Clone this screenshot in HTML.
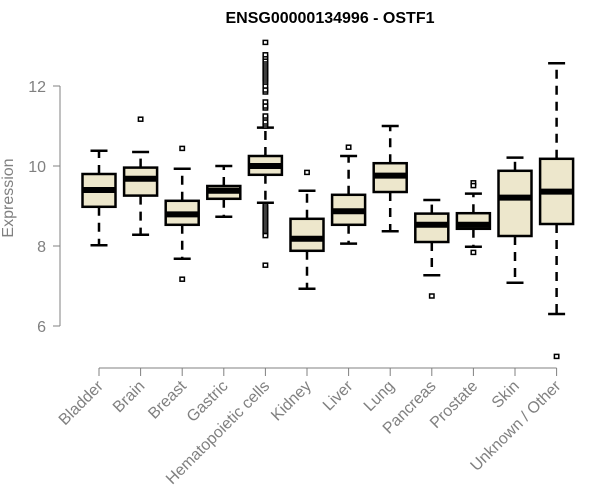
<!DOCTYPE html>
<html><head><meta charset="utf-8">
<style>body{margin:0;background:#fff}svg{display:block;font-family:"Liberation Sans",Arial,sans-serif}</style>
</head><body>
<svg id="chart" width="600" height="500" viewBox="0 0 600 500">
<text x="330" y="23" text-anchor="middle" font-size="16" font-weight="bold">ENSG00000134996 - OSTF1</text>
<text transform="translate(13,198) rotate(-90)" text-anchor="middle" font-size="16" fill="#808080">Expression</text>
<g id="axes"></g><g id="boxes"></g>
</svg>
<script>
const categories=["Bladder","Brain","Breast","Gastric","Hematopoietic cells","Kidney","Liver","Lung","Pancreas","Prostate","Skin","Unknown / Other"];
const whiskerLow=[8.02,8.28,7.68,8.73,9.08,6.93,8.06,8.37,7.27,7.98,7.08,6.30];
const q1=[8.98,9.26,8.53,9.18,9.78,7.88,8.53,9.35,8.10,8.43,8.25,8.55];
const medians=[9.40,9.68,8.79,9.38,10.00,8.18,8.87,9.76,8.53,8.53,9.21,9.36];
const q3=[9.80,9.96,9.13,9.50,10.25,8.68,9.28,10.07,8.81,8.82,9.88,10.18];
const whiskerHigh=[10.38,10.35,9.93,10.00,10.96,9.38,10.25,11.00,9.15,9.31,10.21,12.57];
const outliers=[[],[11.17],[10.44,7.17],[],
[11.0,11.05,11.1,11.2,11.25,11.45,11.5,11.6,11.85,11.9,12.0,12.1,12.15,12.2,12.25,12.3,12.35,12.4,12.45,12.5,12.55,12.6,12.65,12.72,12.78,13.09,9.0,8.95,8.9,8.85,8.8,8.75,8.7,8.65,8.6,8.55,8.5,8.45,8.4,8.35,8.3,8.26,7.52],
[9.84],[10.47],[],[6.75],[9.58,9.51,7.84],[],[5.24]];
const yTicks=[6,8,10,12];
const NS="http://www.w3.org/2000/svg";
const y=v=>326-(v-6)*40;
const x=i=>99+i*41.6;
function mk(p,t,a){const e=document.createElementNS(NS,t);for(const k in a)e.setAttribute(k,a[k]);p.appendChild(e);return e;}
const ax=document.getElementById('axes'),bx=document.getElementById('boxes');
const yl=mk(ax,'line',{x1:60,x2:60,y1:y(yTicks[yTicks.length-1]),y2:y(yTicks[0]),stroke:'#808080'});

yTicks.forEach(t=>{const l=mk(ax,'line',{x1:53,x2:60,y1:y(t),y2:y(t),stroke:'#808080'});

const tx=mk(ax,'text',{x:46,y:y(t)+6,'text-anchor':'end','font-size':16,fill:'#808080'});tx.textContent=t;
});
const xl=mk(ax,'line',{x1:x(0),x2:x(categories.length-1),y1:368,y2:368,stroke:'#808080'});

categories.forEach((c,i)=>{const X=x(i);
const l=mk(ax,'line',{x1:X,x2:X,y1:368,y2:376,stroke:'#808080'});

const tx=mk(ax,'text',{transform:`translate(${X+5},387) rotate(-45)`,'text-anchor':'end','font-size':16,fill:'#808080'});tx.textContent=c;

const g=mk(bx,'g',{});

const ds={stroke:'#000','stroke-width':2.5,'stroke-dasharray':'9,7'};
mk(g,'line',Object.assign({x1:X,x2:X,y1:y(q3[i]),y2:y(whiskerHigh[i])},ds));
mk(g,'line',Object.assign({x1:X,x2:X,y1:y(q1[i]),y2:y(whiskerLow[i])},ds));
mk(g,'line',{x1:X-8.5,x2:X+8.5,y1:y(whiskerHigh[i]),y2:y(whiskerHigh[i]),stroke:'#000','stroke-width':2.5});
mk(g,'line',{x1:X-8.5,x2:X+8.5,y1:y(whiskerLow[i]),y2:y(whiskerLow[i]),stroke:'#000','stroke-width':2.5});
mk(g,'rect',{x:X-16.5,y:y(q3[i]),width:33,height:y(q1[i])-y(q3[i]),fill:'#ede7cc',stroke:'#000','stroke-width':2.5});
mk(g,'line',{x1:X-16.5,x2:X+16.5,y1:y(medians[i]),y2:y(medians[i]),stroke:'#000','stroke-width':6});
outliers[i].forEach(v=>{mk(g,'rect',{x:X-2.2,y:y(v)-2,width:4.4,height:4,fill:'#fff',stroke:'#000','stroke-width':1.5});});
});
</script>
</body></html>
